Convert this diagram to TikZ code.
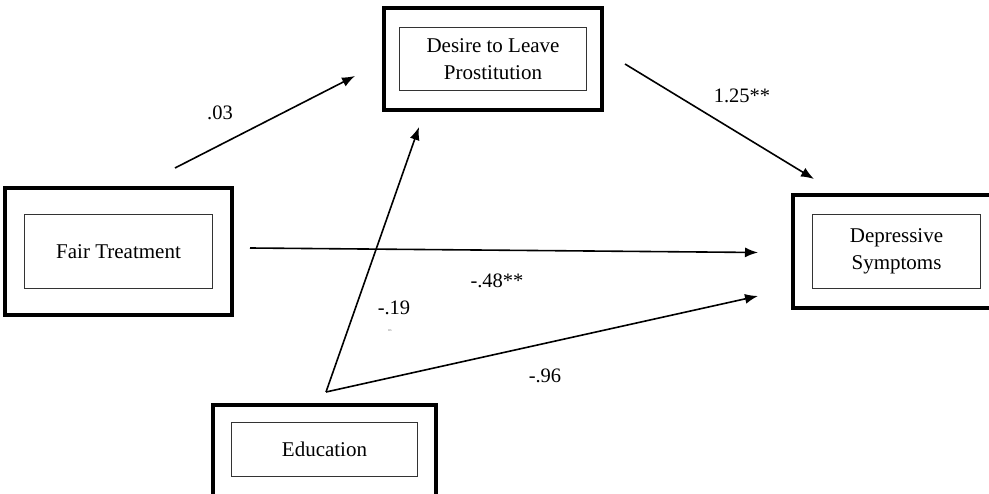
\documentclass[tikz,border=0pt]{standalone}
\usepackage{fontspec}
\setmainfont{Liberation Serif}
\usetikzlibrary{fit,positioning,arrows.meta}

\tikzset{
  var/.style={draw=black!80, line width=1.3pt, align=center,
    font=\fontsize{21}{26.5}\selectfont},
  frame/.style={draw, line width=4pt, inner sep=0pt},
  coef/.style={font=\fontsize{20.5}{24}\selectfont},
}

\begin{document}
\begin{tikzpicture}[x=1pt,y=-1pt,>={Latex[length=13pt,width=10pt]},line width=1.6pt]
  \useasboundingbox (0,0) rectangle (989,494);
  \clip (0,0) rectangle (989,494);
  % inner boxes
  \node[var, minimum width=188pt, minimum height=74pt] (fair) at (118.5,251.5) {Fair Treatment};
  \node[var, minimum width=187pt, minimum height=63pt] (desire) at (493,59) {Desire to Leave\\Prostitution};
  \node[var, minimum width=168pt, minimum height=74pt] (dep) at (896.5,251.5) {Depressive\\Symptoms};
  \node[var, minimum width=186pt, minimum height=54pt] (edu) at (324.5,449.5) {Education};
  \coordinate (edubase) at (324.5,520);
  % outer frames
  \node[frame, inner xsep=19pt, inner ysep=26pt, fit=(fair)] (fairbox) {};
  \node[frame, inner xsep=15pt, inner ysep=19pt, fit=(desire)] (desirebox) {};
  \node[frame, inner xsep=19pt, inner ysep=18.5pt, fit=(dep)] (depbox) {};
  \node[frame, inner xsep=18pt, inner ysep=17pt, fit=(edu) (edubase)] (edubox) {};
  % arrow ends
  \coordinate (fairup) at (175,168);
  \coordinate (desirein) at (355,76);
  \coordinate (desireout) at (625,64);
  \coordinate (depup) at (814,179);
  \coordinate (fairout) at (250,248);
  \coordinate (depin) at (758,252.5);
  \coordinate (eduup) at (326,392);
  \coordinate (desirelow) at (419,127);
  \coordinate (deplow) at (758,296);
  \draw[->] (fairup) -- (desirein);
  \draw[->] (desireout) -- (depup);
  \draw[->] (fairout) -- (depin);
  \draw[->] (eduup) -- (desirelow);
  \draw[->] (eduup) -- (deplow);
  % coefficients
  \node[coef] (c03) at (220,113) {.03};
  \node[coef] (c125) at (742,96) {1.25**};
  \node[coef] (c48) at (497,281) {-.48**};
  \node[coef] (c19) at (394,308) {-.19};
  \node[font=\fontsize{4}{4}\selectfont, text=black!50] (ns) at (390,331) {ns};
  \node[coef] (c96) at (545,376) {-.96};
\end{tikzpicture}
\end{document}
